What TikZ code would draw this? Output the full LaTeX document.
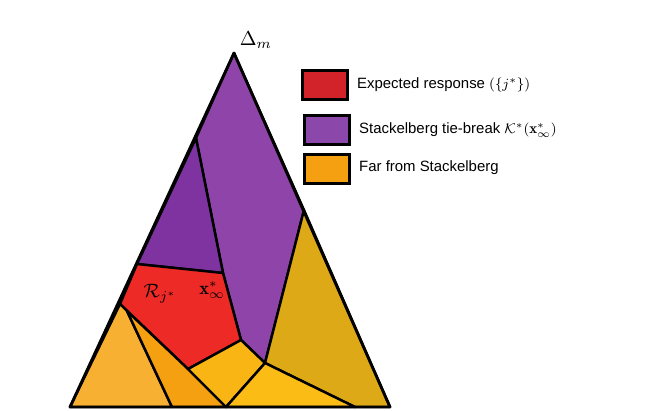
\documentclass[tikz,border=0pt]{standalone}
\usepackage{amsmath,amsfonts}
\usepackage{fontspec}
\newfontfamily\legfont{Liberation Sans}
\definecolor{cred}{HTML}{EE2A27}
\definecolor{ckey}{HTML}{D2232A}
\definecolor{cpurA}{HTML}{8E44A8}
\definecolor{cpurB}{HTML}{7E33A0}
\definecolor{cgold}{HTML}{DDA916}
\definecolor{corA}{HTML}{F7B031}
\definecolor{corB}{HTML}{F5A010}
\definecolor{cyelA}{HTML}{F9B514}
\definecolor{cyelB}{HTML}{FBBC16}
\begin{document}
\begin{tikzpicture}[x=0.02cm,y=-0.02cm,
    reg/.style={draw=black,line width=1.4pt,line join=round},
    lbox/.style={draw=black,line width=1.6pt,minimum width=0.9cm,minimum height=0.58cm,inner sep=0pt},
    ltext/.style={right,font=\legfont\fontsize{8.5}{10}\selectfont}]
    \useasboundingbox (0,0) rectangle (655,410);
    % corners and crossing points
    \coordinate (A) at (234,53);
    \coordinate (L) at (70,407);
    \coordinate (R) at (390,407);
    \coordinate (l1) at (196,138);
    \coordinate (l2) at (137,264);
    \coordinate (l3) at (120,304);
    \coordinate (l4) at (127,311);
    \coordinate (r1) at (304,210);
    \coordinate (x) at (223,273);
    \coordinate (c1) at (241,340);
    \coordinate (c2) at (265,363);
    \coordinate (c3) at (188,369);
    \coordinate (b1) at (172,407);
    \coordinate (b2) at (226,407);
    \coordinate (b3) at (355,407);

    \filldraw[reg,fill=cpurA] (A) -- (r1) -- (c2) -- (c1) -- (x) -- (l1) -- cycle;
    \filldraw[reg,fill=cpurB] (l1) -- (x) -- (l2) -- cycle;
    \filldraw[reg,fill=cred] (l2) -- (x) -- (c1) -- (c3) -- (l3) -- cycle;
    \filldraw[reg,fill=cgold] (r1) -- (R) -- (b3) -- (c2) -- cycle;
    \filldraw[reg,fill=corA] (l3) -- (l4) -- (b1) -- (L) -- cycle;
    \filldraw[reg,fill=corB] (l4) -- (c3) -- (b2) -- (b1) -- cycle;
    \filldraw[reg,fill=cyelA] (c3) -- (c1) -- (c2) -- (b2) -- cycle;
    \filldraw[reg,fill=cyelB] (c2) -- (b3) -- (b2) -- cycle;
    \draw[line width=1.6pt,line join=round] (A) -- (L) -- (R) -- cycle;

    \node[scale=1.15] (delta) at (256,40) {$\Delta_m$};
    \node[scale=1.1] (rj) at (160,294) {$\mathcal{R}_{j^*}$};
    \node[scale=1.05] (xs) at (212,290) {$\mathbf{x}^*_\infty$};

    % legend
    \node[lbox,fill=ckey] (k1) at (325,85) {};
    \node[lbox,fill=cpurB!90!white] (k2) at (327,130) {};
    \node[lbox,fill=corB] (k3) at (327,169) {};
    \node[ltext] (t1) at (351,85) {Expected response $(\{j^*\})$};
    \node[ltext] (t2) at (353,130) {Stackelberg tie-break $\mathcal{K}^*(\mathbf{x}^*_\infty)$};
    \node[ltext] (t3) at (353,168) {Far from Stackelberg};
\end{tikzpicture}
\end{document}
